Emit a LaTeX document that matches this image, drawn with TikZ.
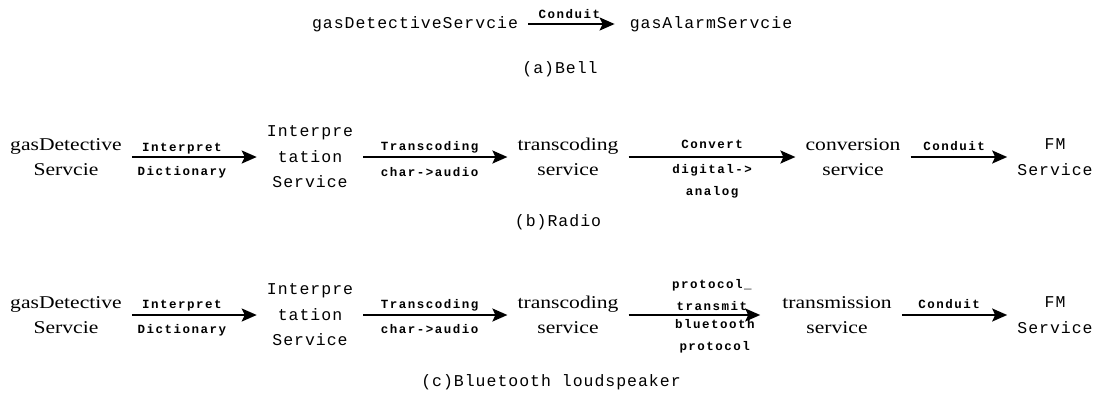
\documentclass[tikz,border=0pt]{standalone}
\usepackage{fontspec}
\usetikzlibrary{arrows.meta}
% faces: a wide serif, a spaced monospace, and a small bold monospace for arrow labels
\newfontfamily\serifface[FakeStretch=1.2]{Liberation Serif}
\newfontfamily\monoface[LetterSpace=6]{Liberation Mono}
\newfontfamily\labelface[LetterSpace=12]{Liberation Mono}
\tikzset{
  srv/.style={align=center, inner xsep=10pt, inner ysep=2pt,
    font=\serifface\fontsize{18}{25}\selectfont},
  msrv/.style={align=center, inner xsep=10pt, inner ysep=2pt,
    font=\monoface\fontsize{16.5}{25.5}\selectfont},
  flow/.style={-{Stealth[length=15pt,width=13pt,inset=3pt]}, line width=2pt},
  % base anchor of a multi-line label sits on its last line
  lbl/.style={font=\labelface\bfseries\fontsize{12.5}{22}\selectfont,
    inner sep=0pt, anchor=base, align=center},
  subcap/.style={font=\monoface\fontsize{16.5}{20}\selectfont, inner sep=0pt}
}
\begin{document}
\begin{tikzpicture}[x=1pt,y=-1pt]
\useasboundingbox[fill=white] (0,0) rectangle (1099,394);

% (a) bell
\node[msrv] (a1) at (415,24) {gasDetectiveServcie};
\node[msrv] (a2) at (711,24) {gasAlarmServcie};
\draw[flow, shorten >=5pt] (a1) -- (a2)
  node[lbl, pos=0.45, yshift=6pt] (a12t) {Conduit};
\node[subcap] (capA) at (560,69) {(a)Bell};

% (b) radio
\node[srv]  (b1) at (66,157)   {gasDetective\\Servcie};
\node[msrv] (b2) at (310,157)  {Interpre\\tation\\Service};
\node[srv]  (b3) at (568,157)  {transcoding\\service};
\node[srv]  (b4) at (853,157)  {conversion\\service};
\node[msrv] (b5) at (1055,157) {FM\\Service};
\draw[flow] (b1) -- (b2)
  node[lbl, pos=0.4, yshift=6pt]   (b12t) {Interpret}
  node[lbl, pos=0.4, yshift=-18pt] (b12b) {Dictionary};
\draw[flow] (b2) -- (b3)
  node[lbl, pos=0.46, yshift=7pt]   (b23t) {Transcoding}
  node[lbl, pos=0.46, yshift=-19pt] (b23b) {char->audio};
\draw[flow] (b3) -- (b4)
  node[lbl, pos=0.5, yshift=9pt]   (b34t) {Convert}
  node[lbl, pos=0.5, yshift=-38pt] (b34b) {digital->\\analog};
\draw[flow] (b4) -- (b5)
  node[lbl, pos=0.45, yshift=7pt] (b45t) {Conduit};
\node[subcap] (capB) at (558,222) {(b)Radio};

% (c) bluetooth loudspeaker
\node[srv]  (c1) at (66,315)   {gasDetective\\Servcie};
\node[msrv] (c2) at (310,315)  {Interpre\\tation\\Service};
\node[srv]  (c3) at (568,315)  {transcoding\\service};
\node[srv]  (c4) at (837,315)  {transmission\\service};
\node[msrv] (c5) at (1055,315) {FM\\Service};
\draw[flow] (c1) -- (c2)
  node[lbl, pos=0.4, yshift=7pt]   (c12t) {Interpret}
  node[lbl, pos=0.4, yshift=-18pt] (c12b) {Dictionary};
\draw[flow] (c2) -- (c3)
  node[lbl, pos=0.46, yshift=7pt]   (c23t) {Transcoding}
  node[lbl, pos=0.46, yshift=-18pt] (c23b) {char->audio};
\draw[flow, shorten >=12pt] (c3) -- (c4)
  node[lbl, pos=0.58, yshift=5pt]   (c34t) {protocol\_\\transmit}
  node[lbl, pos=0.6, yshift=-35pt]  (c34b) {bluetooth\\protocol};
\draw[flow] (c4) -- (c5)
  node[lbl, pos=0.45, yshift=7pt] (c45t) {Conduit};
\node[subcap] (capC) at (551,382) {(c)Bluetooth loudspeaker};
\end{tikzpicture}
\end{document}
